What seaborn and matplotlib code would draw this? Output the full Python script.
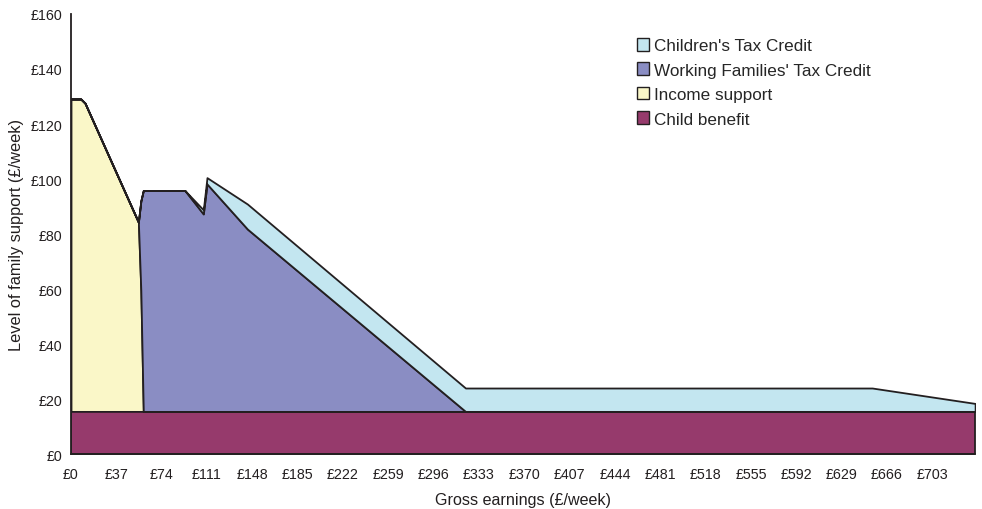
import matplotlib
matplotlib.use("Agg")
import matplotlib.pyplot as plt
from matplotlib.patches import Patch
import seaborn as sns

# Gross weekly earnings (£) at each break point of the schedule
earnings = [0, 8, 11.4, 55, 57, 59, 93, 108, 111, 144, 322, 654, 738]

# Weekly support components (£) at those earnings levels
child_benefit = [15.5, 15.5, 15.5, 15.5, 15.5, 15.5, 15.5, 15.5, 15.5, 15.5, 15.5, 15.5, 15.5]
income_support = [113.6, 113.6, 112.1, 68.8, 44.0, 0, 0, 0, 0, 0, 0, 0, 0]
wftc = [0, 0, 0, 0, 32.5, 80.3, 80.3, 71.8, 82.7, 66.3, 0, 0, 0]
ctc = [0, 0, 0, 0, 0, 0, 0, 1.5, 2.3, 9.1, 8.5, 8.5, 2.9]

labels = ["Child benefit", "Income support", "Working Families' Tax Credit",
          "Children's Tax Credit"]
colors = ["#963A6C", "#FAF7C8", "#8A8DC3", "#C3E6F0"]

x_ticks = [0, 37, 74, 111, 148, 185, 222, 259, 296, 333, 370, 407, 444,
           481, 518, 555, 592, 629, 666, 703]
y_ticks = [0, 20, 40, 60, 80, 100, 120, 140, 160]

sns.set_style("white")
plt.rcParams["font.family"] = ["Liberation Sans", "DejaVu Sans"]

fig = plt.figure(figsize=(9.82, 5.10), dpi=100)
ax = fig.add_axes([0.0723, 0.1078, 0.9207, 0.8628])

ax.stackplot(earnings, child_benefit, income_support, wftc, ctc,
             colors=colors, edgecolor="#231F20", linewidth=1.3)

ax.set_xlim(0, 738)
ax.set_ylim(0, 160)
ax.set_xticks(x_ticks)
ax.set_xticklabels([f"£{v}" for v in x_ticks], fontsize=10.3, color="#231F20")
ax.set_yticks(y_ticks)
ax.set_yticklabels([f"£{v}" for v in y_ticks], fontsize=10.3, color="#231F20")
ax.tick_params(axis="both", direction="out", length=4, width=1, color="#555555")
ax.tick_params(axis="x", pad=5)
ax.tick_params(axis="y", pad=2)

for side in ("top", "right"):
    ax.spines[side].set_visible(False)
for side in ("left", "bottom"):
    ax.spines[side].set_color("#231F20")
    ax.spines[side].set_linewidth(1.3)

ax.set_xlabel("Gross earnings (£/week)", fontsize=11.6, color="#231F20", labelpad=8)
ax.set_ylabel("Level of family support (£/week)", fontsize=11.8, color="#231F20",
              labelpad=5)

handles = [Patch(facecolor=c, edgecolor="#231F20", linewidth=1.0, label=l)
           for c, l in zip(colors, labels)][::-1]
ax.legend(handles=handles, loc="upper left", bbox_to_anchor=(0.618, 0.961),
          frameon=False, fontsize=12.3, handlelength=0.75, handleheight=0.75,
          handletextpad=0.25, labelspacing=0.54, borderaxespad=0)

fig.savefig("out.png", dpi=100)
